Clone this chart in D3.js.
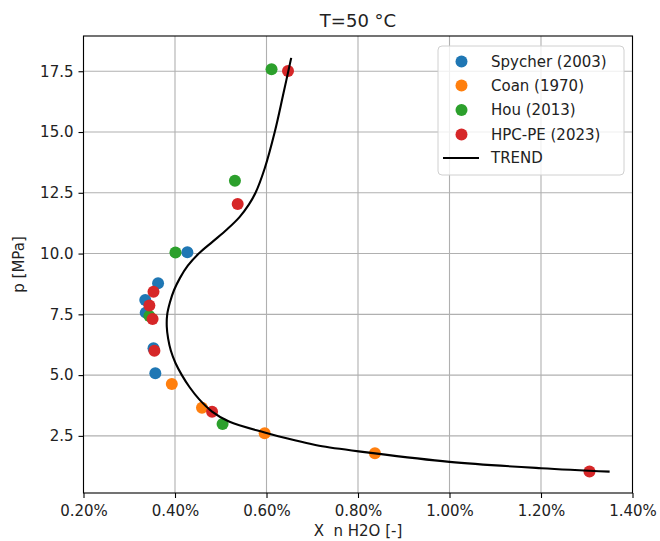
<!DOCTYPE html>
<html>
  <head>
    <title>T=50 °C</title>
    <script src="https://d3js.org/d3.v7.min.js"></script>
    <style>
      body { margin: 0; background: #fff; }
      text { font-family: "DejaVu Sans", sans-serif; fill: #222; }
    </style>
  </head>
  <body>
    <svg width="660" height="541"></svg>

    <script>
      // data (x in %, p in MPa)
      const spycherX = [0.427, 0.363, 0.335, 0.336, 0.353, 0.357];
      const spycherP = [10.05, 8.78, 8.09, 7.57, 6.10, 5.08];
      const coanX = [0.393, 0.459, 0.596, 0.837];
      const coanP = [4.63, 3.66, 2.61, 1.79];
      const houX = [0.611, 0.531, 0.401, 0.344, 0.504];
      const houP = [17.58, 13.0, 10.04, 7.43, 2.99];
      const hpcX = [0.647, 0.537, 0.353, 0.344, 0.351, 0.355, 0.481, 1.306];
      const hpcP = [17.51, 12.04, 8.43, 7.86, 7.31, 6.0, 3.49, 1.03];

      const trendP = [1.03, 1.17, 1.43, 1.81, 2.09, 2.31, 2.64, 3.09, 3.5, 4.0, 4.5, 5.0, 5.5, 6.0, 6.5, 7.0, 7.5, 8.0, 8.5, 9.0, 9.5, 10.0, 10.5, 11.0, 11.5, 12.0, 12.5, 13.5, 15.0, 16.5, 18.05];
      const trendX = [1.35, 1.20, 1.00, 0.824, 0.715, 0.664, 0.596, 0.518, 0.481, 0.453, 0.432, 0.415, 0.401, 0.391, 0.385, 0.382, 0.383, 0.389, 0.398, 0.411, 0.428, 0.452, 0.483, 0.514, 0.541, 0.561, 0.576, 0.596, 0.618, 0.636, 0.654];

      const xTicks = [0.2, 0.4, 0.6, 0.8, 1.0, 1.2, 1.4];
      const yTicks = [2.5, 5.0, 7.5, 10.0, 12.5, 15.0, 17.5];

      const series = [
        { name: "Spycher (2003)", color: "#1f77b4", x: spycherX, p: spycherP },
        { name: "Coan (1970)", color: "#ff7f0e", x: coanX, p: coanP },
        { name: "Hou (2013)", color: "#2ca02c", x: houX, p: houP },
        { name: "HPC-PE (2023)", color: "#d62728", x: hpcX, p: hpcP }
      ];

      const svg = d3.select("svg");
      const pl = 83.5, pr = 632.5, pt = 36, pb = 493;

      const x = d3.scaleLinear().domain([0.2, 1.4]).range([pl, pr]);
      const y = d3.scaleLinear().domain([0.15, 18.95]).range([pb, pt]);

      // grid
      svg.append("g").selectAll("line").data(xTicks).join("line")
        .attr("x1", d => x(d)).attr("x2", d => x(d))
        .attr("y1", pt).attr("y2", pb)
        .attr("stroke", "#b0b0b0").attr("stroke-width", 1.1);
      svg.append("g").selectAll("line").data(yTicks).join("line")
        .attr("x1", pl).attr("x2", pr)
        .attr("y1", d => y(d)).attr("y2", d => y(d))
        .attr("stroke", "#b0b0b0").attr("stroke-width", 1.1);

      // axes
      const xAxis = d3.axisBottom(x).tickValues(xTicks)
        .tickFormat(d => d.toFixed(2) + "%").tickSize(5).tickPadding(7);
      const yAxis = d3.axisLeft(y).tickValues(yTicks)
        .tickFormat(d3.format(".1f")).tickSize(5).tickPadding(5);

      svg.append("g").attr("transform", `translate(0,${pb})`).call(xAxis)
        .call(g => g.select(".domain").remove());
      svg.append("g").attr("transform", `translate(${pl},0)`).call(yAxis)
        .call(g => g.select(".domain").remove());
      svg.selectAll(".tick line").attr("stroke", "#000").attr("stroke-width", 1.1);
      svg.selectAll(".tick text").style("font-size", "15px").attr("fill", "#222");

      // scatter
      series.forEach(s => {
        svg.append("g").selectAll("circle").data(s.x).join("circle")
          .attr("cx", d => x(d))
          .attr("cy", (d, i) => y(s.p[i]))
          .attr("r", 6)
          .attr("fill", s.color);
      });

      // trend line
      const line = d3.line()
        .x(d => x(d[0])).y(d => y(d[1]))
        .curve(d3.curveCatmullRom.alpha(0.5));
      svg.append("path")
        .datum(trendX.map((v, i) => [v, trendP[i]]))
        .attr("d", line)
        .attr("fill", "none").attr("stroke", "#000").attr("stroke-width", 2.1);

      // frame
      svg.append("rect")
        .attr("x", pl).attr("y", pt)
        .attr("width", pr - pl).attr("height", pb - pt)
        .attr("fill", "none").attr("stroke", "#000").attr("stroke-width", 1.1);

      // titles
      svg.append("text").attr("x", (pl + pr) / 2).attr("y", 27)
        .attr("text-anchor", "middle").style("font-size", "18px").text("T=50 °C");
      svg.append("text").attr("x", (pl + pr) / 2).attr("y", 536)
        .attr("text-anchor", "middle").style("font-size", "15px").style("white-space", "pre")
        .text("X\u00a0\u00a0n H2O [-]");
      svg.append("text")
        .attr("transform", `translate(24,${(pt + pb) / 2}) rotate(-90)`)
        .attr("text-anchor", "middle").style("font-size", "15px").text("p [MPa]");

      // legend
      const lg = svg.append("g");
      lg.append("rect").attr("x", 438).attr("y", 46).attr("width", 186).attr("height", 129)
        .attr("rx", 4).attr("fill", "#fff").attr("fill-opacity", 0.8)
        .attr("stroke", "#d0d0d0").attr("stroke-width", 1);
      const rows = [61.5, 85.5, 110, 134.5, 158];
      series.forEach((s, i) => {
        lg.append("circle").attr("cx", 461.5).attr("cy", rows[i]).attr("r", 6).attr("fill", s.color);
        lg.append("text").attr("x", 491).attr("y", rows[i]).attr("dy", "0.35em")
          .style("font-size", "15px").text(s.name);
      });
      lg.append("line").attr("x1", 443).attr("x2", 479).attr("y1", rows[4]).attr("y2", rows[4])
        .attr("stroke", "#000").attr("stroke-width", 2.1);
      lg.append("text").attr("x", 491).attr("y", rows[4]).attr("dy", "0.35em")
        .style("font-size", "15px").text("TREND");
    </script>
  </body>
</html>
